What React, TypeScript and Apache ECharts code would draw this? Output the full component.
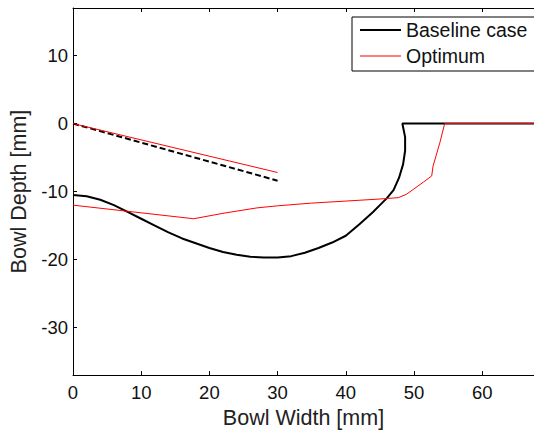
import React, { useEffect, useRef } from "react";
import * as echarts from "echarts";

const xTicks = [0, 10, 20, 30, 40, 50, 60];
const yTicks = [-30, -20, -10, 0, 10];

const baselineX = [0, 2, 4, 6, 8, 10, 12, 14, 16, 18, 20, 22, 24, 26, 28, 30, 32, 34, 36, 38, 40, 42, 44, 45, 46, 47, 47.8, 48.4, 48.7, 48.7, 48.4, 48.3, 67.6];
const baselineY = [-10.5, -10.7, -11.2, -12, -13, -14, -15, -16, -16.9, -17.6, -18.3, -18.9, -19.3, -19.6, -19.7, -19.7, -19.5, -19, -18.3, -17.5, -16.5, -14.8, -13, -12, -11, -9.8, -8, -6, -4, -2, -0.5, 0, 0];

const optimumX = [0, 17.7, 22, 27, 30, 35, 40, 45, 47.7, 48.9, 51.4, 52.6, 52.8, 53.8, 54.5, 67.6];
const optimumY = [-12, -14, -13.2, -12.4, -12.1, -11.7, -11.4, -11.1, -10.9, -10.4, -8.6, -7.7, -6.25, -2.8, 0, 0];

const baseSlopeX = [0, 30];
const baseSlopeY = [0, -8.4];
const optSlopeX = [0, 30];
const optSlopeY = [0, -7.2];

const zip = (xs: number[], ys: number[]) => xs.map((x, i) => [x, ys[i]]);

export default function App() {
  const ref = useRef<HTMLDivElement>(null);
  useEffect(() => {
    const chart = echarts.init(ref.current!, null, { renderer: "svg" });
    const font = "Liberation Sans, Arial, sans-serif";
    chart.setOption({
      animation: false,
      backgroundColor: "#ffffff",
      textStyle: { fontFamily: font },
      grid: { left: 73, top: 8, right: 0, bottom: 58 },
      legend: {
        data: [
          { name: "Baseline case", icon: "path://M0,0 L41,0 L41,2 L0,2 Z" },
          { name: "Optimum", icon: "path://M0,0 L41,0 L41,1 L0,1 Z" },
        ],
        orient: "vertical",
        left: 352,
        top: 17,
        borderColor: "#000",
        borderWidth: 1,
        borderRadius: 0,
        padding: [3, 30, 5, 8],
        itemGap: 6,
        itemWidth: 41,
        itemHeight: 20,
        textStyle: { fontSize: 19.5, lineHeight: 20, color: "#111", fontFamily: font, padding: [0, 0, 0, 0] },
      },
      xAxis: [
        {
          type: "value",
          min: 0,
          max: 67.6,
          position: "bottom",
          name: "Bowl Width [mm]",
          nameLocation: "middle",
          nameGap: 29,
          nameTextStyle: { fontSize: 21.5, color: "#222", fontFamily: font },
          axisLine: { show: true, onZero: false, lineStyle: { color: "#000", width: 1 } },
          axisTick: { show: true, inside: true, length: 4, customValues: xTicks, lineStyle: { color: "#000" } },
          axisLabel: { customValues: xTicks, fontSize: 18.5, color: "#111", margin: 8, fontFamily: font },
          splitLine: { show: false },
        },
        {
          type: "value",
          min: 0,
          max: 67.6,
          position: "top",
          axisLine: { show: true, onZero: false, lineStyle: { color: "#000", width: 1 } },
          axisTick: { show: true, inside: true, length: 4, customValues: xTicks, lineStyle: { color: "#000" } },
          axisLabel: { show: false },
          splitLine: { show: false },
        },
      ],
      yAxis: [
        {
          type: "value",
          min: -37,
          max: 17,
          name: "Bowl Depth [mm]",
          nameLocation: "middle",
          nameGap: 40,
          nameTextStyle: { fontSize: 21.5, color: "#222", fontFamily: font },
          axisLine: { show: true, onZero: false, lineStyle: { color: "#000", width: 1 } },
          axisTick: { show: true, inside: true, length: 4, customValues: yTicks, lineStyle: { color: "#000" } },
          axisLabel: { customValues: yTicks, fontSize: 18.5, color: "#111", margin: 5, fontFamily: font },
          splitLine: { show: false },
        },
      ],
      series: [
        {
          name: "Baseline case",
          type: "line",
          data: zip(baselineX, baselineY),
          showSymbol: false,
          lineStyle: { color: "#000", width: 2 },
          itemStyle: { color: "#000" },
          z: 3,
        },
        {
          name: "Optimum",
          type: "line",
          data: zip(optimumX, optimumY),
          showSymbol: false,
          lineStyle: { color: "#ff0000", width: 1 },
          itemStyle: { color: "#ff0000" },
          z: 4,
        },
        {
          name: "Baseline slope",
          type: "line",
          data: zip(baseSlopeX, baseSlopeY),
          showSymbol: false,
          lineStyle: { color: "#000", width: 2, type: [6, 3] },
          z: 3,
        },
        {
          name: "Optimum slope",
          type: "line",
          data: zip(optSlopeX, optSlopeY),
          showSymbol: false,
          lineStyle: { color: "#ff0000", width: 1 },
          z: 4,
        },
      ],
    });
    return () => chart.dispose();
  }, []);
  return <div ref={ref} style={{ width: 534, height: 434, position: "fixed", left: 0, top: 0 }} />;
}
